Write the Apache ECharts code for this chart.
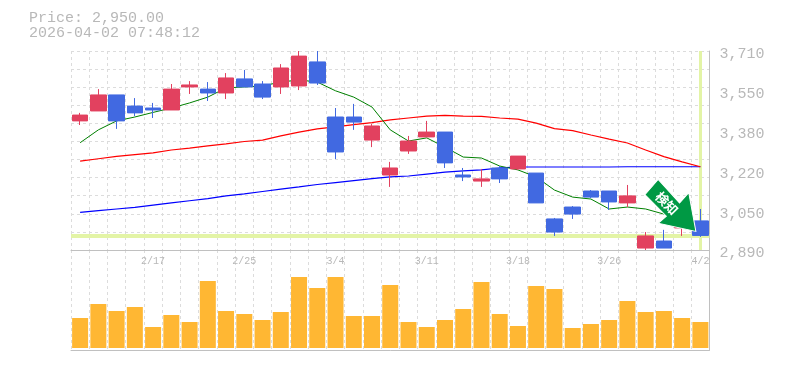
<!DOCTYPE html>
<html>
<head>
<meta charset="utf-8">
<style>html,body{margin:0;padding:0;background:#fff}#c{width:785px;height:370px}</style>
<script src="https://cdn.jsdelivr.net/npm/echarts@6/dist/echarts.min.js"></script>
</head>
<body>
<div id="c"></div>
<script>
const titleText = "Price: 2,950.00\n2026-04-02 07:48:12";
const categories = ["2/9","2/10","2/12","2/13","2/17","2/18","2/19","2/20","2/24","2/25","2/26","2/27","3/2","3/3","3/4","3/5","3/6","3/9","3/10","3/11","3/12","3/13","3/16","3/17","3/18","3/19","3/23","3/24","3/25","3/26","3/27","3/30","3/31","4/1","4/2"];
const opens  = [3422,3463,3529,3483,3475,3467,3562,3553,3537,3595,3574,3562,3566,3665,3438,3438,3343,3199,3298,3356,3376,3199,3174,3228,3224,3207,3018,3067,3133,3133,3084,2898,2927,2981,3010];
const closes = [3446,3529,3422,3455,3467,3553,3570,3537,3599,3562,3520,3640,3689,3578,3294,3417,3401,3228,3339,3376,3249,3191,3183,3183,3277,3084,2964,3038,3108,3088,3113,2948,2898,3005,2950];
const lows   = [3405,3463,3389,3442,3434,3467,3533,3504,3512,3562,3512,3533,3549,3570,3265,3385,3314,3150,3286,3356,3228,3174,3150,3166,3220,3084,2948,3018,3104,3055,3067,2890,2898,2948,2944];
const highs  = [3455,3553,3529,3516,3496,3574,3586,3582,3619,3632,3586,3656,3710,3710,3475,3492,3409,3253,3360,3422,3376,3228,3224,3236,3277,3207,3022,3071,3137,3133,3158,2964,2973,3010,3059];
const maShort = [3332,3385,3422,3438,3457,3475,3496,3520,3558,3562,3566,3582,3591,3582,3546,3520,3479,3385,3339,3352,3314,3273,3269,3236,3220,3191,3137,3108,3100,3059,3067,3059,3038,3005,2981];
const maMid   = [3256,3266,3276,3283,3290,3302,3310,3319,3327,3337,3343,3360,3376,3389,3397,3407,3415,3426,3434,3442,3445,3442,3441,3434,3429,3413,3390,3382,3364,3347,3331,3302,3275,3253,3233];
const maLong  = [3045,3052,3059,3066,3075,3084,3093,3102,3113,3121,3131,3141,3150,3160,3168,3176,3184,3191,3195,3203,3211,3216,3220,3228,3232,3232,3232,3232,3232,3232,3233,3233,3233,3233,3233];
const volumes = [30,44,37,41,21,33,26,67,37,34,28,36,71,60,71,32,32,63,26,21,28,39,66,34,22,62,59,20,24,28,47,36,37,30,26];
const priceLabels = [2890,3054,3218,3382,3546,3710];
const gridDivisions = 11;
const currentPrice = 2950;
const lastIndex = 34;
const signalText = "検知";

const mono = "'Liberation Mono', monospace";
const grey = "#b8b8b8";
const lineGrey = "#c0c0c0";
const dash = {show:true, interval:0, lineStyle:{color:"#dcdcdc", width:1, type:[3,3]}};
const fmt = v => { const r = Math.round(v/10)*10; return String(r).replace(/\B(?=(\d{3})+$)/g, ","); };
const line = (data,color,width) => ({type:"line", data, xAxisIndex:0, yAxisIndex:0, symbol:"none", silent:true, lineStyle:{color,width}, z:2});

const chart = echarts.init(document.getElementById("c"), null, {renderer:"canvas"});
chart.setOption({
  animation:false,
  backgroundColor:"#fff",
  title:{text:titleText, left:29, top:11, padding:0, textStyle:{fontFamily:mono, fontSize:15, fontWeight:"normal", color:grey, lineHeight:15}},
  grid:[
    {left:71, top:51, width:638.5, height:199},
    {left:71, top:250, width:638.5, height:100}
  ],
  xAxis:[
    {type:"category", gridIndex:0, data:categories, boundaryGap:true,
     axisLine:{show:true, lineStyle:{color:lineGrey, width:1}}, axisTick:{show:false}, splitLine:dash,
     axisLabel:{show:true, interval:(i)=>(i+1)%5===0, margin:6, fontFamily:mono, fontSize:10, color:grey, hideOverlap:false}},
    {type:"category", gridIndex:1, data:categories, boundaryGap:true,
     axisLine:{show:true, onZero:false, lineStyle:{color:lineGrey, width:1}}, axisTick:{show:false}, splitLine:dash, axisLabel:{show:false}}
  ],
  yAxis:[
    {type:"value", gridIndex:0, position:"right", min:2890, max:3710,
     axisLine:{show:true, lineStyle:{color:lineGrey, width:1}},
     axisTick:{show:false},
     splitLine:{show:false},
     axisLabel:{show:true, customValues:priceLabels, formatter:fmt, margin:10, verticalAlign:"top", lineHeight:7, fontFamily:mono, fontSize:15, color:grey, showMinLabel:true, showMaxLabel:true}},
    {type:"value", gridIndex:1, position:"right", min:-2, max:98,
     axisLine:{show:true, lineStyle:{color:lineGrey, width:1}}, axisTick:{show:false}, splitLine:{show:false}, axisLabel:{show:false}},
    {type:"value", gridIndex:0, position:"left", min:0, max:gridDivisions, interval:1,
     axisLine:{show:false}, axisTick:{show:false}, axisLabel:{show:false},
     splitLine:{show:true, lineStyle:{color:"#dcdcdc", width:1, type:[3,3]}}}
  ],
  series:[
    line(maLong,"#0000ff",1.2),
    line(maMid,"#ff0000",1.2),
    line(maShort,"#008000",1),
    {type:"candlestick", xAxisIndex:0, yAxisIndex:0, silent:true, barWidth:16, z:3,
     data:categories.map((_,i)=>[opens[i],closes[i],lows[i],highs[i]]),
     itemStyle:{color:"#e2415f", color0:"#4169e1", borderColor:"#e2415f", borderColor0:"#4169e1", borderWidth:1},
     markPoint:{
       silent:true, z:6, animation:false,
       data:[{coord:[lastIndex,currentPrice], symbol:"path://M13,0 L0,15 L21,36 L13,43 L50,51 L43,13 L34,23 Z",
              symbolSize:[51,52], symbolOffset:[-30,-30],
              itemStyle:{color:"#009944", borderColor:"#ffffff", borderWidth:1},
              label:{show:true, position:"inside", formatter:signalText, rotate:-45, offset:[-4,1], color:"#fff", fontSize:13, fontWeight:"bold", fontFamily:"'Noto Sans CJK JP', sans-serif"}}]
     }},
    {type:"line", data:[], xAxisIndex:0, yAxisIndex:0, symbol:"none", silent:true,
     markLine:{silent:true, z:1, symbol:"none", animation:false, label:{show:false},
       data:[
         {yAxis:currentPrice, lineStyle:{color:"#e3f4a6", width:4, type:"solid"}},
         {xAxis:lastIndex, lineStyle:{color:"#e3f4a6", width:3, type:"solid"}}
       ]}},
    {type:"bar", xAxisIndex:1, yAxisIndex:1, data:volumes, barWidth:16, silent:true, itemStyle:{color:"#ffb733"}}
  ]
});
</script>
</body>
</html>
